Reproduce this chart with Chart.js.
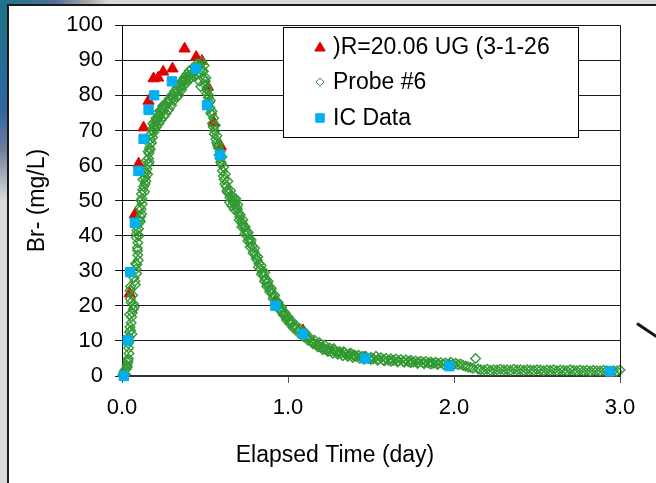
<!DOCTYPE html>
<html>
<head>
<meta charset="utf-8">
<script src="https://cdn.jsdelivr.net/npm/chart.js@4.4.1/dist/chart.umd.min.js"></script>
<style>
html,body{margin:0;padding:0;}
body{width:656px;height:483px;overflow:hidden;position:relative;background:#d9d9d9;font-family:"Liberation Sans",Arial,sans-serif;}
#decoL{position:absolute;left:0;top:0;width:8px;height:200px;background:linear-gradient(180deg,#1d7488 0%,#2f64a0 55%,#6f7f9c 75%,#d9d9d9 100%);}
#decoT{position:absolute;left:0;top:0;width:110px;height:5px;background:linear-gradient(90deg,#1d7488 0%,#4f6f98 50%,#a8a8a8 80%,#d9d9d9 100%);}
#frame{position:absolute;left:7px;top:4px;width:680px;height:500px;background:#ffffff;border-left:2px solid #1a1a1a;border-top:2px solid #1a1a1a;}
#arrow{position:absolute;left:637px;top:322px;width:26px;height:3px;background:#111;transform:rotate(34deg);transform-origin:0 50%;}
#c{position:absolute;left:0;top:0;}
</style>
</head>
<body>
<div id="decoL"></div>
<div id="decoT"></div>
<div id="frame"></div>
<div id="arrow"></div>
<canvas id="c" width="656" height="483"></canvas>
<script>
// ---- Data ----
const seriesNames = [")R=20.06 UG (3-1-26", "Probe #6", "IC Data"];
const xAxisTitle = "Elapsed Time (day)";
const yAxisTitle = "Br- (mg/L)";
const xTicks = [0, 1, 2, 3];
const yTicks = [0, 10, 20, 30, 40, 50, 60, 70, 80, 90, 100];

const ugT = [0.012,0.046,0.077,0.100,0.130,0.160,0.190,0.218,0.248,0.304,0.377,0.447,0.482,0.518,0.553,0.596,0.924,1.090,1.466,1.972,2.940];
const ugV = [1.0,23.5,46.0,60.5,70.8,78.4,84.8,85.0,86.7,87.6,93.3,90.9,89.8,82.4,72.3,65.4,21.0,13.0,5.3,3.0,0.8];

const icT = [0.011,0.034,0.049,0.077,0.099,0.130,0.160,0.194,0.300,0.446,0.512,0.591,0.924,1.090,1.466,1.972,2.940];
const icV = [0.0,10.2,29.6,43.7,58.5,67.6,75.9,80.0,84.0,87.6,77.2,63.0,20.0,12.0,5.0,2.8,1.3];

const probeT = [
0.005,0.010,0.015,0.020,0.025,0.030,0.035,0.038,0.042,0.040,0.038,0.042,0.045,0.048,0.052,0.055,0.058,0.062,0.068,0.074,
0.050,0.048,0.052,0.078,0.088,0.085,0.090,0.098,0.095,0.094,0.086,0.088,0.090,0.098,0.105,0.112,0.118,0.115,0.122,0.120,
0.118,0.125,0.130,0.139,0.140,0.145,0.150,0.159,0.160,0.163,0.166,0.169,0.172,0.176,0.182,0.189,0.186,0.195,0.200,0.205,
0.210,0.219,0.215,0.225,0.232,0.240,0.249,0.245,0.255,0.262,0.270,0.279,0.285,0.292,0.300,0.309,0.315,0.322,0.330,0.339,
0.345,0.352,0.360,0.369,0.375,0.382,0.390,0.399,0.405,0.412,0.420,0.430,0.438,0.445,0.452,0.460,0.468,0.470,0.475,0.480,
0.485,0.490,0.495,0.500,0.505,0.510,0.515,0.520,0.525,0.530,0.535,0.540,0.545,0.550,0.555,0.560,0.565,0.570,0.575,0.580,
0.585,0.590,0.595,0.600,0.605,0.610,0.615,0.620,0.628,0.635,0.642,0.650,0.658,0.665,0.672,0.680,0.685,0.690,0.700,0.710,
0.718,0.725,0.735,0.745,0.755,0.765,0.775,0.785,0.795,0.805,0.815,0.825,0.835,0.845,0.855,0.865,0.875,0.885,0.895,0.905,
0.915,0.925,0.935,0.945,0.955,0.965,0.975,0.985,0.995,1.005,1.020,1.035,1.050,1.065,1.080,1.095,1.110,1.125,1.140,1.155,
1.170,1.185,1.200,1.215,1.230,1.245,1.260,1.275,1.290,1.305,1.320,1.335,1.350,1.365,1.380,1.395,1.410,1.425,1.440,1.455,
1.470,1.485,1.500,1.515,1.530,1.545,1.560,1.575,1.590,1.605,1.620,1.635,1.650,1.665,1.680,1.695,1.710,1.725,1.740,1.755,
1.770,1.785,1.800,1.815,1.830,1.845,1.860,1.875,1.890,1.905,1.920,1.935,1.950,1.965,1.980,1.995,2.010,2.025,2.040,2.055,
2.070,2.085,2.100,2.115,2.130,2.145,2.160,2.180,2.200,2.220,2.240,2.260,2.280,2.300,2.320,2.340,2.360,2.380,2.400,2.420,
2.440,2.460,2.480,2.500,2.520,2.540,2.560,2.580,2.600,2.620,2.640,2.660,2.680,2.700,2.720,2.740,2.760,2.780,2.800,2.820,
2.840,2.860,2.880,2.900,2.920,2.940,2.960,2.980,3.000,
0.632,0.648,0.662,0.676,0.695,0.705,0.722,0.740,0.758,0.772,0.790,0.808,0.822,0.840,0.858,0.872,0.890,0.910,0.930,0.950,
0.970,0.990,1.010,1.030,1.060,1.090,1.120,1.150,1.180,1.210,1.240,1.270,1.300,1.330,1.360,1.390,1.430,1.460,1.500,1.540,
1.580,1.620,1.660,1.700,1.740,1.780,1.820,1.860,1.900,1.940,1.980,
0.032,0.036,0.044,0.046,0.054,0.060,0.064,0.070,0.072,0.080,0.082,0.092,0.096,0.100,0.102,0.108,0.110,0.114,0.126,0.132,
0.136,0.144,0.148,0.154,0.158,0.164,0.170,0.178,0.184,0.192,0.198,0.208,0.222,0.236,0.252,0.266,0.282,0.298,0.312,0.328,
0.342,0.358,0.372,0.388,0.402,0.418,0.432,0.448,0.462,0.478,0.492,0.502,0.512,0.522,0.532,0.542,0.552,0.562,0.572,0.582,
0.592,0.602,0.612,0.622,0.638,0.654,0.668,0.684,0.698,0.712,0.728,0.742,0.760,0.778,0.798,0.818,0.838,0.860,0.880,0.900,
0.920,0.940,0.962,0.982,1.002,1.025,1.045,1.070,1.100,1.130,1.160,1.190,1.220,1.250,1.280,1.310,1.340,1.370,1.400,1.450
];
const probeV = [
0.3,0.8,1.5,0.5,2.0,3.0,3.8,5.0,6.4,8.0,9.3,11.0,12.5,14.0,13.0,15.2,16.8,18.0,19.0,19.7,
22.0,24.4,25.5,27.0,29.2,30.5,31.8,33.0,34.5,35.8,39.5,40.5,41.5,43.4,44.5,45.5,46.2,47.5,49.0,50.5,
51.9,53.0,54.0,54.7,56.5,58.0,59.0,60.4,62.0,63.5,65.0,66.1,67.5,69.0,70.0,70.8,72.0,71.5,72.5,73.5,
72.8,73.7,75.0,74.5,75.5,76.0,75.6,77.0,77.2,76.8,78.0,77.9,79.0,78.5,80.0,79.3,81.0,80.5,82.0,81.3,
83.0,82.5,84.0,84.1,85.0,84.2,86.0,85.5,87.0,85.8,87.5,86.5,88.0,87.2,89.0,88.2,84.0,88.8,82.5,89.5,
87.0,86.9,88.5,83.1,85.0,80.5,81.5,79.3,78.0,76.5,75.0,74.6,72.0,71.0,69.0,69.9,67.5,66.5,65.8,65.1,
63.0,62.0,61.0,60.4,58.5,57.0,56.0,54.7,54.0,53.0,52.0,50.9,51.5,50.0,49.5,49.0,50.5,48.0,46.5,45.3,
44.0,43.5,42.5,41.5,40.5,39.0,38.0,37.0,35.5,34.5,33.0,32.0,30.5,29.5,28.5,27.5,26.5,25.5,24.5,23.5,
22.5,21.5,20.8,20.0,19.2,18.5,17.8,17.0,16.5,15.8,15.0,14.3,13.5,13.0,12.3,11.8,11.2,10.6,10.0,9.5,
9.0,8.6,8.2,7.9,7.6,7.3,7.0,7.8,6.8,6.6,6.4,6.9,6.2,6.0,6.5,5.8,5.6,5.9,5.4,5.2,
5.5,5.0,5.3,4.9,5.6,4.8,5.2,4.6,5.0,4.5,4.9,4.4,4.8,4.3,4.7,4.2,4.6,4.1,4.5,4.0,
4.3,3.9,4.2,3.8,4.1,3.7,4.0,3.6,3.9,3.5,3.8,3.4,3.7,3.3,3.9,3.4,3.6,3.2,3.4,3.0,
2.8,2.6,2.4,2.2,5.0,2.0,1.8,1.7,1.9,1.6,1.8,1.7,1.9,1.7,1.8,1.6,1.9,1.7,1.8,1.6,
1.8,1.7,1.6,1.8,1.7,1.5,1.7,1.6,1.8,1.5,1.7,1.6,1.5,1.8,1.6,1.5,1.7,1.5,1.6,1.4,
1.6,1.5,1.4,1.6,1.5,1.4,1.5,1.4,1.7,
52.5,49.5,48.5,47.5,47.5,44.5,42.5,40.5,38.5,36.8,35.0,33.5,31.0,29.0,27.0,25.5,24.0,22.0,20.5,18.8,
17.5,16.0,15.0,13.8,12.5,11.3,10.2,9.2,8.3,7.5,7.0,6.5,6.2,5.8,5.6,5.3,5.1,4.8,4.7,4.5,
4.3,4.2,4.0,3.9,3.8,3.6,3.5,3.4,3.3,3.2,3.0,
2.5,4.5,10.0,17.5,21.0,12.0,23.0,20.5,28.0,26.0,32.0,36.5,38.0,42.0,40.0,48.0,44.0,50.0,56.0,58.0,
52.5,55.5,61.5,57.5,64.0,61.0,64.5,66.5,68.0,69.5,70.5,71.0,72.0,73.0,74.0,74.8,76.0,77.2,78.5,79.5,
80.0,81.5,82.8,83.5,84.5,85.0,85.5,85.8,86.5,87.5,84.8,84.0,82.0,80.0,78.5,75.5,73.5,71.5,68.5,66.0,
64.0,62.5,59.5,57.5,55.5,52.8,51.0,50.0,48.8,46.0,44.5,42.5,41.0,38.8,36.5,34.0,31.5,29.5,27.0,25.0,
23.0,21.0,19.5,18.0,16.8,15.5,14.5,13.5,12.5,11.0,10.2,9.5,8.8,8.0,7.4,7.0,6.7,6.3,6.0,5.6
];

const colors = { ug: "#e00000", probe: "#339933", ic: "#00b0f0" };
const FONT = '"Liberation Sans", Arial, sans-serif';

function pairs(xs, ys) { return xs.map((x, i) => ({ x: x, y: ys[i] })); }

const plotFrame = {
  id: "plotFrame",
  afterDraw(chart) {
    const ctx = chart.ctx;
    const a = chart.chartArea;
    ctx.save();
    ctx.strokeStyle = "#1a1a1a";
    ctx.lineWidth = 1;
    ctx.beginPath();
    ctx.moveTo(Math.round(a.right) + 0.5, a.top);
    ctx.lineTo(Math.round(a.right) + 0.5, a.bottom);
    ctx.stroke();

    const lx = 283.5, ly = 27.5, lw = 295, lh = 110;
    ctx.fillStyle = "#ffffff";
    ctx.fillRect(lx, ly, lw, lh);
    ctx.strokeStyle = "#000000";
    ctx.lineWidth = 1;
    ctx.strokeRect(lx, ly, lw, lh);
    const rowsY = [47, 82, 118];
    ctx.font = "23px " + FONT;
    ctx.textBaseline = "middle";
    ctx.textAlign = "left";
    chart.data.datasets.forEach((ds, i) => {
      const st = {
        pointStyle: ds.pointStyle,
        radius: ds.legendRadius,
        rotation: 0,
        borderWidth: ds.borderWidth
      };
      ctx.save();
      ctx.fillStyle = ds.backgroundColor;
      ctx.strokeStyle = ds.borderColor;
      ctx.lineWidth = 1;
      Chart.helpers.drawPoint(ctx, st, 320, rowsY[i] + (ds.pointStyle === "triangle" ? 1 : 0));
      ctx.restore();
      ctx.fillStyle = "#000000";
      ctx.fillText(ds.label, 333, rowsY[i] + 1);
    });

    ctx.font = "23px " + FONT;
    ctx.fillStyle = "#000000";
    ctx.textAlign = "center";
    ctx.textBaseline = "alphabetic";
    ctx.fillText(xAxisTitle, 335, 462);
    ctx.restore();
  }
};

new Chart(document.getElementById("c"), {
  type: "scatter",
  data: {
    datasets: [
      {
        label: seriesNames[0],
        data: pairs(ugT, ugV),
        pointStyle: "triangle",
        pointRadius: 6.5,
        legendRadius: 6,
        backgroundColor: colors.ug,
        borderColor: colors.ug,
        borderWidth: 1,
        clip: false,
        order: 3
      },
      {
        label: seriesNames[1],
        data: pairs(probeT, probeV),
        pointStyle: "rectRot",
        pointRadius: 4.8,
        legendRadius: 4,
        backgroundColor: "rgba(0,0,0,0)",
        borderColor: colors.probe,
        borderWidth: 1.4,
        clip: false,
        order: 2
      },
      {
        label: seriesNames[2],
        data: pairs(icT, icV),
        pointStyle: "rect",
        pointRadius: 6.6,
        legendRadius: 6,
        backgroundColor: colors.ic,
        borderColor: colors.ic,
        borderWidth: 1,
        clip: false,
        order: 1
      }
    ]
  },
  options: {
    responsive: false,
    animation: false,
    devicePixelRatio: 1,
    layout: { padding: { left: 0, top: 24, right: 36, bottom: 0 } },
    plugins: {
      legend: { display: false },
      tooltip: { enabled: false }
    },
    elements: { point: { hoverRadius: 0 } },
    scales: {
      x: {
        type: "linear",
        min: 0,
        max: 3,
        afterFit(s) { s.height = 107; },
        afterBuildTicks(s) { s.ticks = xTicks.map(v => ({ value: v })); },
        ticks: {
          callback: v => Number(v).toFixed(1),
          font: { family: FONT, size: 22 },
          color: "#000000",
          padding: 12,
          maxRotation: 0
        },
        grid: { drawOnChartArea: false, drawTicks: true, tickLength: 7, color: "#555555", lineWidth: 1 },
        border: { display: true, color: "#333333", width: 2 }
      },
      y: {
        type: "linear",
        min: 0,
        max: 100,
        afterFit(s) { s.width = 122; },
        afterBuildTicks(s) { s.ticks = yTicks.map(v => ({ value: v })); },
        ticks: {
          font: { family: FONT, size: 22 },
          color: "#000000",
          padding: 12
        },
        grid: { color: "#1a1a1a", lineWidth: 1, tickLength: 7, drawTicks: true },
        border: { display: true, color: "#000000", width: 1 },
        title: {
          display: true,
          text: yAxisTitle,
          font: { family: FONT, size: 23 },
          color: "#000000",
          padding: { top: 24, bottom: 0 }
        }
      }
    }
  },
  plugins: [plotFrame]
});
</script>
</body>
</html>
